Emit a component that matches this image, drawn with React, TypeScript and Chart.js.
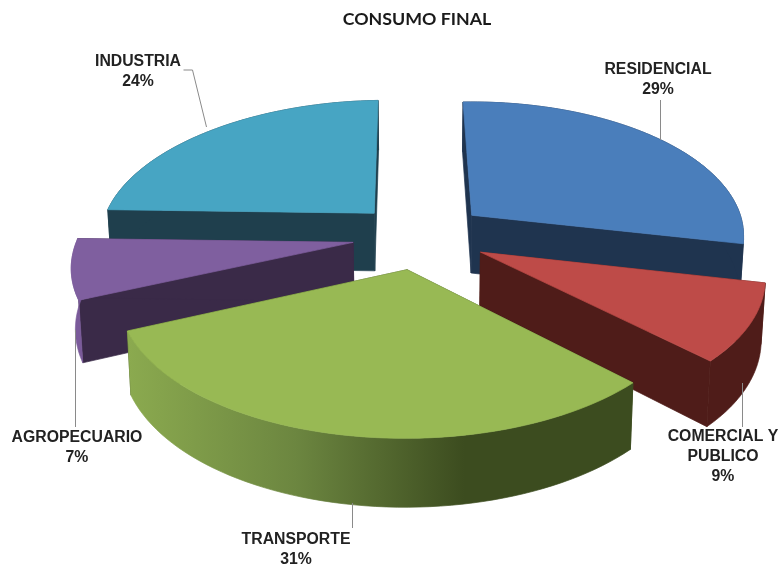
import React, { useEffect, useRef } from "react";
import { Chart, registerables } from "chart.js";

Chart.register(...registerables);

const titleText = "CONSUMO FINAL";
const categories: (string | string[])[] = ["RESIDENCIAL", ["COMERCIAL Y", "PUBLICO"], "TRANSPORTE", "AGROPECUARIO", "INDUSTRIA"];
const shares = [29, 9, 31, 7, 24];
const topColors = ["#4A7EBB", "#BE4B48", "#98B954", "#7F5F9F", "#47A5C3"];
const wallColors = ["#1F344F", "#4F1C19", "#3C4C1F", "#3A2A48", "#1F3F4D"];
const rimStops: string[][] = [
  ["#1F344F"],
  ["#4F1C19"],
  ["#8BAA4F", "#6C8640", "#3C4C1F", "#3C4C1F"],
  ["#7A5A9A"],
  ["#1F3F4D"],
];
const labelAnchors = [
  { x: 658, y: 70 },
  { x: 723, y: 437 },
  { x: 296, y: 540 },
  { x: 77, y: 438 },
  { x: 138, y: 62 },
];
const leaderLines = [
  [[660, 100], [660, 140]],
  [[742, 383], [742, 427]],
  [[352, 503], [352, 528]],
  [[75, 330], [75, 427]],
  [[183, 70], [192, 70], [206, 127]],
];

const ROTATION = -2;
const CX = 420, CY = 236, RX = 275, RY = 134.6, PX = 0.15, PY = 0.14, BACK_SHEAR = 6;

type P = { x: number; y: number; v: number };

function project(mx: number, my: number): P {
  const sx = 1 / (1 - PX * my);
  const sy = 1 / (1 - PY * my);
  const shear = my < 0 ? -my * BACK_SHEAR : 0;
  return { x: CX + mx * RX * sx + shear, y: CY + my * RY * sy, v: my };
}
function drop(p: P): P {
  return { x: CX + (p.x - CX) * 0.988, y: p.y + 59 + 8 * p.v, v: p.v };
}
function poly(ctx: CanvasRenderingContext2D, pts: P[], fill: string | CanvasGradient) {
  ctx.beginPath();
  pts.forEach((p, i) => (i ? ctx.lineTo(p.x, p.y) : ctx.moveTo(p.x, p.y)));
  ctx.closePath();
  ctx.fillStyle = fill;
  ctx.strokeStyle = fill;
  ctx.lineWidth = 0.7;
  ctx.fill();
  ctx.stroke();
}

const pie3d = {
  id: "pie3d",
  beforeDatasetsDraw(chart: any) {
    const ctx: CanvasRenderingContext2D = chart.ctx;
    const arcs = chart.getDatasetMeta(0).data;
    const order = arcs
      .map((el: any, i: number) => ({ el, i, mid: Math.sin((el.startAngle + el.endAngle) / 2) }))
      .sort((a: any, b: any) => a.mid - b.mid);
    for (const { el, i } of order) {
      const mid = (el.startAngle + el.endAngle) / 2;
      const off = el.options.offset / el.outerRadius;
      const ox = Math.cos(mid) * off, oy = Math.sin(mid) * off;
      const apex = project(ox, oy);
      const rim: P[] = [];
      const steps = 60;
      for (let k = 0; k <= steps; k++) {
        const a = el.startAngle + ((el.endAngle - el.startAngle) * k) / steps;
        rim.push(project(ox + Math.cos(a), oy + Math.sin(a)));
      }
      poly(ctx, [apex, rim[0], drop(rim[0]), drop(apex)], wallColors[i]);
      poly(ctx, [apex, rim[steps], drop(rim[steps]), drop(apex)], wallColors[i]);
      const xs = rim.map((p) => p.x);
      const stops = rimStops[i];
      let fill: string | CanvasGradient = stops[0];
      if (stops.length > 1) {
        const g = ctx.createLinearGradient(Math.min(...xs), 0, Math.max(...xs), 0);
        stops.forEach((c, n) => g.addColorStop(n / (stops.length - 1), c));
        fill = g;
      }
      poly(ctx, [...rim, ...rim.slice().reverse().map(drop)], fill);
      poly(ctx, [apex, ...rim], topColors[i]);
    }
    return false;
  },
  afterDraw(chart: any) {
    const ctx: CanvasRenderingContext2D = chart.ctx;
    ctx.save();
    ctx.strokeStyle = "#8a8a8a";
    ctx.lineWidth = 1;
    leaderLines.forEach((line) => {
      ctx.beginPath();
      line.forEach(([x, y], i) => (i ? ctx.lineTo(x + 0.5, y) : ctx.moveTo(x + 0.5, y)));
      ctx.stroke();
    });
    ctx.fillStyle = "#222";
    ctx.font = "bold 15.8px 'Liberation Sans'";
    ctx.textAlign = "center";
    ctx.textBaseline = "middle";
    categories.forEach((c, i) => {
      const lines = [...(Array.isArray(c) ? c : [c]), `${shares[i]}%`];
      lines.forEach((t, n) => ctx.fillText(t, labelAnchors[i].x, labelAnchors[i].y + n * 20));
    });
    ctx.restore();
  },
};

export default function App() {
  const ref = useRef<HTMLCanvasElement>(null);
  useEffect(() => {
    const chart = new Chart(ref.current!, {
      type: "pie",
      data: {
        labels: categories as any,
        datasets: [{ data: shares, backgroundColor: topColors, offset: 58, borderWidth: 0 }],
      },
      options: {
        responsive: false,
        animation: false,
        rotation: ROTATION,
        layout: { padding: { left: 54, top: 9 } },
        plugins: {
          legend: { display: false },
          tooltip: { enabled: false },
          title: {
            display: true,
            text: titleText,
            color: "#1a1a1a",
            font: { family: "Lato", size: 17.8, weight: "bold" },
            padding: { top: 0, bottom: 8 },
          },
        },
      },
      plugins: [pie3d],
    } as any);
    return () => chart.destroy();
  }, []);
  return (
    <div style={{ position: "fixed", left: 0, top: 0, width: 780, height: 568, background: "#fff" }}>
      <canvas ref={ref} width={780} height={568} style={{ display: "block" }} />
    </div>
  );
}
